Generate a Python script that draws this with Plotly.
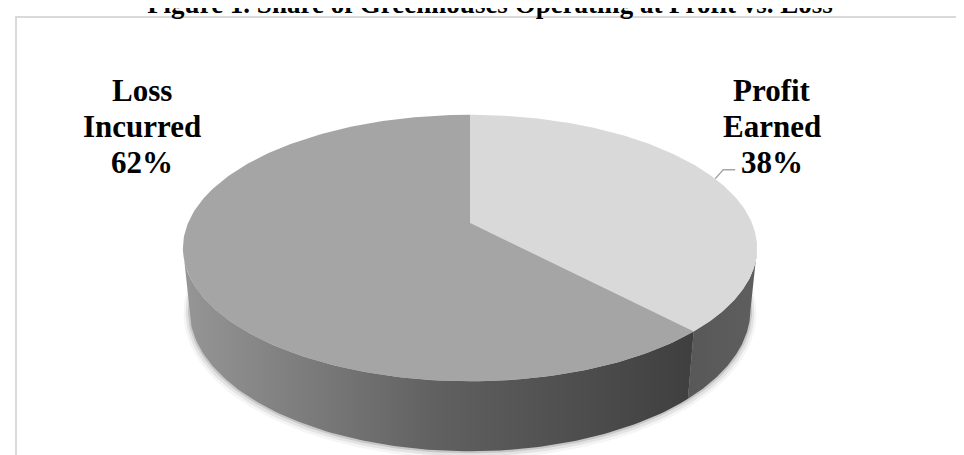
import numpy as np
import plotly.graph_objects as go

# ---------------- data ----------------
categories = ["Profit Earned", "Loss Incurred"]
values = [38, 62]
label_lines = [["Profit", "Earned", "38%"], ["Loss", "Incurred", "62%"]]
title_text = "Figure 1. Share of Greenhouses Operating at Profit vs. Loss"

# ---------------- style ----------------
top_colors = ["#d9d9d9", "#a5a5a5"]
side_scales = [
    [[0, "#585858"], [1, "#5e5e5e"]],
    [[0, "#969696"], [0.5, "#606060"], [1, "#3f3f3f"]],
]
FONT = "Liberation Serif"
LABEL_SIZE = 31
LINE_GAP = 36
label_centers = [(764, 93), (134, 93)]   # (center x, baseline of first line) in px

W, H = 964, 455

# ---------------- 3D pie projection (pixel units) ----------------
CX, CY = 462.0, 215.0
ALPHA = np.radians(26.6)
COSA, SINA = np.cos(ALPHA), np.sin(ALPHA)
DIST = 5.319 * COSA
FX, FY = 1341.0, 1365.0
THICK = 0.2417


def project(r, phi, z):
    X = r * np.sin(phi)
    Y = r * np.cos(phi)
    depth = Y * COSA - z * SINA + DIST
    return CX + FX * X / depth, CY - FY * (Y * SINA + z * COSA) / depth


fractions = np.array(values, dtype=float) / np.sum(values)
bounds = np.concatenate([[0.0], np.cumsum(fractions)]) * 2 * np.pi
vis_lo = np.arccos(-COSA / DIST)
vis_hi = 2 * np.pi - vis_lo

fig = go.Figure()

# soft shadow below pie
for dr, alpha in [(0.022, 0.04), (0.014, 0.07), (0.006, 0.12)]:
    ph = np.linspace(0, 2 * np.pi, 240)
    sx, sy = project(1 + dr, ph, -THICK - dr * 0.5)
    fig.add_trace(go.Scatter(x=sx, y=sy, mode="lines", fill="toself",
                             fillcolor=f"rgba(0,0,0,{alpha})", line=dict(width=0),
                             hoverinfo="skip", showlegend=False))

# sides
for i, name in enumerate(categories):
    a, b = max(bounds[i], vis_lo), min(bounds[i + 1], vis_hi)
    if b <= a:
        continue
    ph = np.linspace(a, b, 120)
    tx, ty = project(1.0, ph, 0.0)
    bx, by = project(1.0, ph[::-1], -THICK)
    fig.add_trace(go.Scatter(
        x=np.concatenate([tx, bx, tx[:1]]), y=np.concatenate([ty, by, ty[:1]]),
        mode="lines", fill="toself",
        fillgradient=dict(type="horizontal", colorscale=side_scales[i]),
        line=dict(width=0), hoverinfo="skip", showlegend=False))

# top faces
for i, name in enumerate(categories):
    ph = np.linspace(bounds[i], bounds[i + 1], 200)
    ex, ey = project(1.0, ph, 0.0)
    ox, oy = project(0.0, 0.0, 0.0)
    fig.add_trace(go.Scatter(
        x=np.concatenate([[ox], ex, [ox]]), y=np.concatenate([[oy], ey, [oy]]),
        mode="lines", fill="toself", fillcolor=top_colors[i],
        line=dict(width=0), name=name,
        hovertemplate=f"{name}: {values[i]}%<extra></extra>", showlegend=False))

# leader line for profit label
mid = (bounds[0] + bounds[1]) / 2
lx, ly = project(1.0, mid, 0.0)
fig.add_trace(go.Scatter(x=[lx, lx + 8, lx + 20], y=[ly, ly - 9, ly - 9], mode="lines",
                         line=dict(color="#a6a6a6", width=1.3), hoverinfo="skip",
                         showlegend=False))

# labels
for i, lines in enumerate(label_lines):
    cx, base = label_centers[i]
    for j, t in enumerate(lines):
        fig.add_annotation(x=cx, y=base + j * LINE_GAP - 0.33 * LABEL_SIZE, text=t,
                           showarrow=False, xanchor="center", yanchor="middle",
                           font=dict(family=FONT, size=LABEL_SIZE, color="#000000",
                                     weight="bold"))

# frame
fig.add_shape(type="rect", x0=8, y0=9, x1=W + 50, y1=H + 50,
              line=dict(color="#d9d9d9", width=2), fillcolor="rgba(0,0,0,0)", layer="below")

fig.update_layout(
    width=W, height=H,
    margin=dict(l=0, r=0, t=0, b=0),
    paper_bgcolor="#ffffff", plot_bgcolor="#ffffff",
    title=dict(text=title_text, x=0.5, xanchor="center", xref="container",
               y=1 - 5 / H, yanchor="bottom", yref="container",
               font=dict(family=FONT, size=27, color="#000000", weight="bold")),
    xaxis=dict(range=[0, W], visible=False, fixedrange=True),
    yaxis=dict(range=[H, 0], visible=False, fixedrange=True),
    showlegend=False,
)

fig.write_html("out.html")
